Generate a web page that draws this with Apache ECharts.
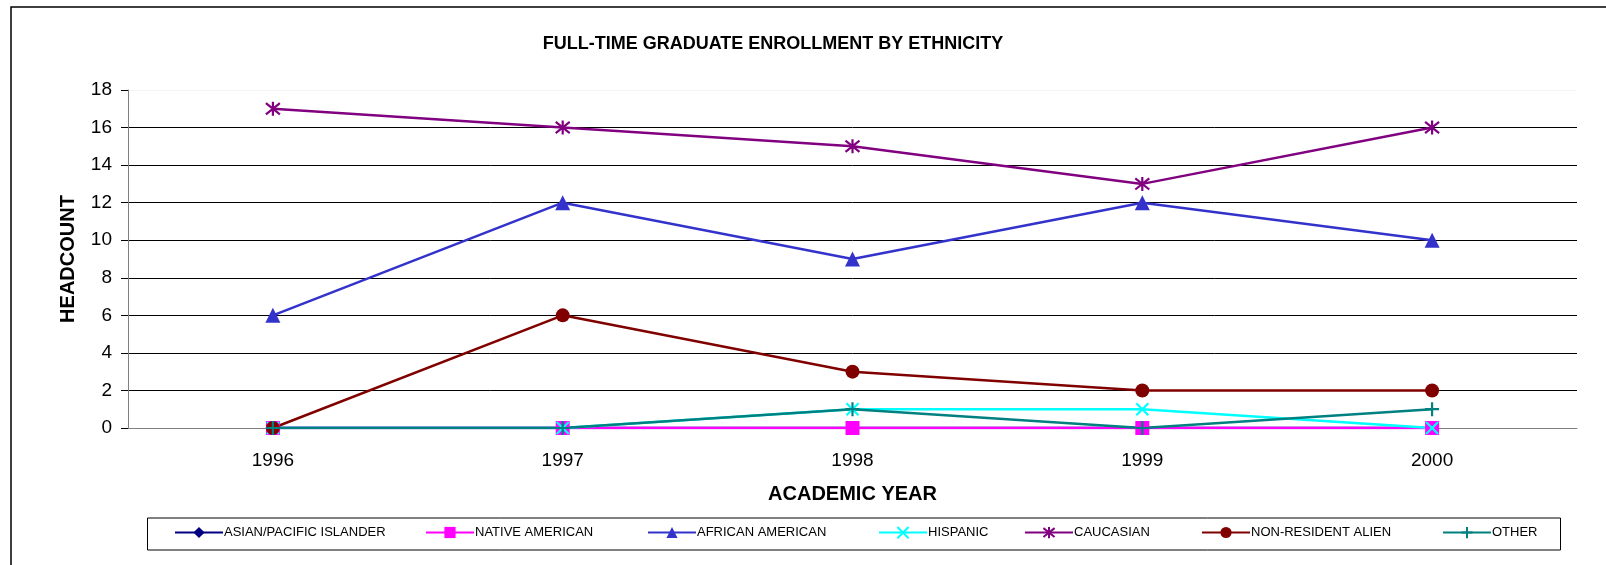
<!DOCTYPE html>
<html>
<head>
<meta charset="utf-8">
<script src="https://cdn.jsdelivr.net/npm/echarts@6/dist/echarts.min.js"></script>
<style>
  html, body { margin: 0; padding: 0; background: #fff; }
  #chart { width: 1606px; height: 565px; }
</style>
</head>
<body>
<div id="chart"></div>
<script>
// academic years
const years = ['1996', '1997', '1998', '1999', '2000'];

// headcount per ethnicity
const asianPacific = [0, 0, 0, 0, 0];
const nativeAmerican = [0, 0, 0, 0, 0];
const africanAmerican = [6, 12, 9, 12, 10];
const hispanic = [0, 0, 1, 1, 0];
const caucasian = [17, 16, 15, 13, 16];
const nonResident = [0, 6, 3, 2, 2];
const other = [0, 0, 1, 0, 1];

const names = ['ASIAN/PACIFIC ISLANDER', 'NATIVE AMERICAN', 'AFRICAN AMERICAN', 'HISPANIC', 'CAUCASIAN', 'NON-RESIDENT ALIEN', 'OTHER'];

const X_PATH = 'path://M0,0L10,10M10,0L0,10';
const PLUS_PATH = 'path://M5,0L5,10M0,5L10,5';
const STAR_PATH = 'path://M1,1L9,9M9,1L1,9M5,0L5,10';

function lineSeries(name, data, color, symbol, size, stroke) {
  return {
    name: name,
    type: 'line',
    data: data,
    symbol: symbol,
    symbolSize: size,
    showAllSymbol: true,
    lineStyle: { color: color, width: 2.5 },
    itemStyle: stroke
      ? { color: color, borderColor: color, borderWidth: 2.2 }
      : { color: color, borderWidth: 0 },
    emphasis: { disabled: true }
  };
}

// legend item positions (x of each icon)
const legendLeft = [174, 425, 647, 878, 1024, 1201, 1442];

let chart = echarts.init(document.getElementById('chart'));
chart.setOption({
  animation: false,
  textStyle: { fontFamily: 'Liberation Sans, Arial, sans-serif' },
  title: {
    text: 'FULL-TIME GRADUATE ENROLLMENT BY ETHNICITY',
    left: 773,
    top: 35,
    textAlign: 'center',
    padding: 0,
    textStyle: { fontSize: 18, fontWeight: 'bold', color: '#000' }
  },
  graphic: [
    {
      type: 'rect',
      shape: { x: 11, y: 7, width: 1620, height: 600 },
      style: { fill: 'none', stroke: '#000', lineWidth: 1.5 },
      silent: true
    },
    {
      type: 'rect',
      shape: { x: 147.5, y: 518, width: 1413, height: 32 },
      style: { fill: 'none', stroke: '#000', lineWidth: 1 },
      silent: true
    }
  ],
  legend: names.map(function (n, i) {
    return {
      data: [n],
      left: legendLeft[i],
      top: 526,
      padding: 0,
      itemWidth: 48,
      itemHeight: 14,
      itemGap: 0,
      selectedMode: false,
      textStyle: { fontSize: 13, color: '#000', padding: [0, 0, 0, -4] }
    };
  }),
  grid: { left: 128, right: 29, top: 90, bottom: 137 },
  xAxis: {
    type: 'category',
    data: years,
    boundaryGap: true,
    name: 'ACADEMIC YEAR',
    nameLocation: 'middle',
    nameGap: 56,
    nameTextStyle: { fontSize: 20, fontWeight: 'bold', color: '#000' },
    axisLine: { lineStyle: { color: '#808080', width: 1 } },
    axisTick: { interval: 0, length: 5, lineStyle: { color: '#000' } },
    axisLabel: { fontSize: 19, color: '#000', margin: 23 }
  },
  yAxis: {
    type: 'value',
    min: 0,
    max: 18,
    interval: 2,
    name: 'HEADCOUNT',
    nameLocation: 'middle',
    nameRotate: 90,
    nameGap: 50,
    nameTextStyle: { fontSize: 20, fontWeight: 'bold', color: '#000' },
    axisLine: { show: true, lineStyle: { color: '#808080', width: 1 } },
    axisTick: { show: true, length: 7, lineStyle: { color: '#000' } },
    axisLabel: { fontSize: 19, color: '#000', margin: 16 },
    splitLine: {
      show: true,
      lineStyle: {
        color: ['#808080', '#000', '#000', '#000', '#000', '#000', '#000', '#000', '#000', '#f4f4f4'],
        width: 1
      }
    }
  },
  series: [
    lineSeries(names[0], asianPacific, '#000080', 'diamond', 12, false),
    lineSeries(names[1], nativeAmerican, '#FF00FF', 'rect', 14, false),
    lineSeries(names[2], africanAmerican, '#3333CC', 'triangle', 15, false),
    lineSeries(names[3], hispanic, '#00FFFF', X_PATH, 12, true),
    lineSeries(names[4], caucasian, '#800080', STAR_PATH, 14, true),
    lineSeries(names[5], nonResident, '#800000', 'circle', 14, false),
    lineSeries(names[6], other, '#008080', PLUS_PATH, 14, true)
  ]
});
</script>
</body>
</html>
